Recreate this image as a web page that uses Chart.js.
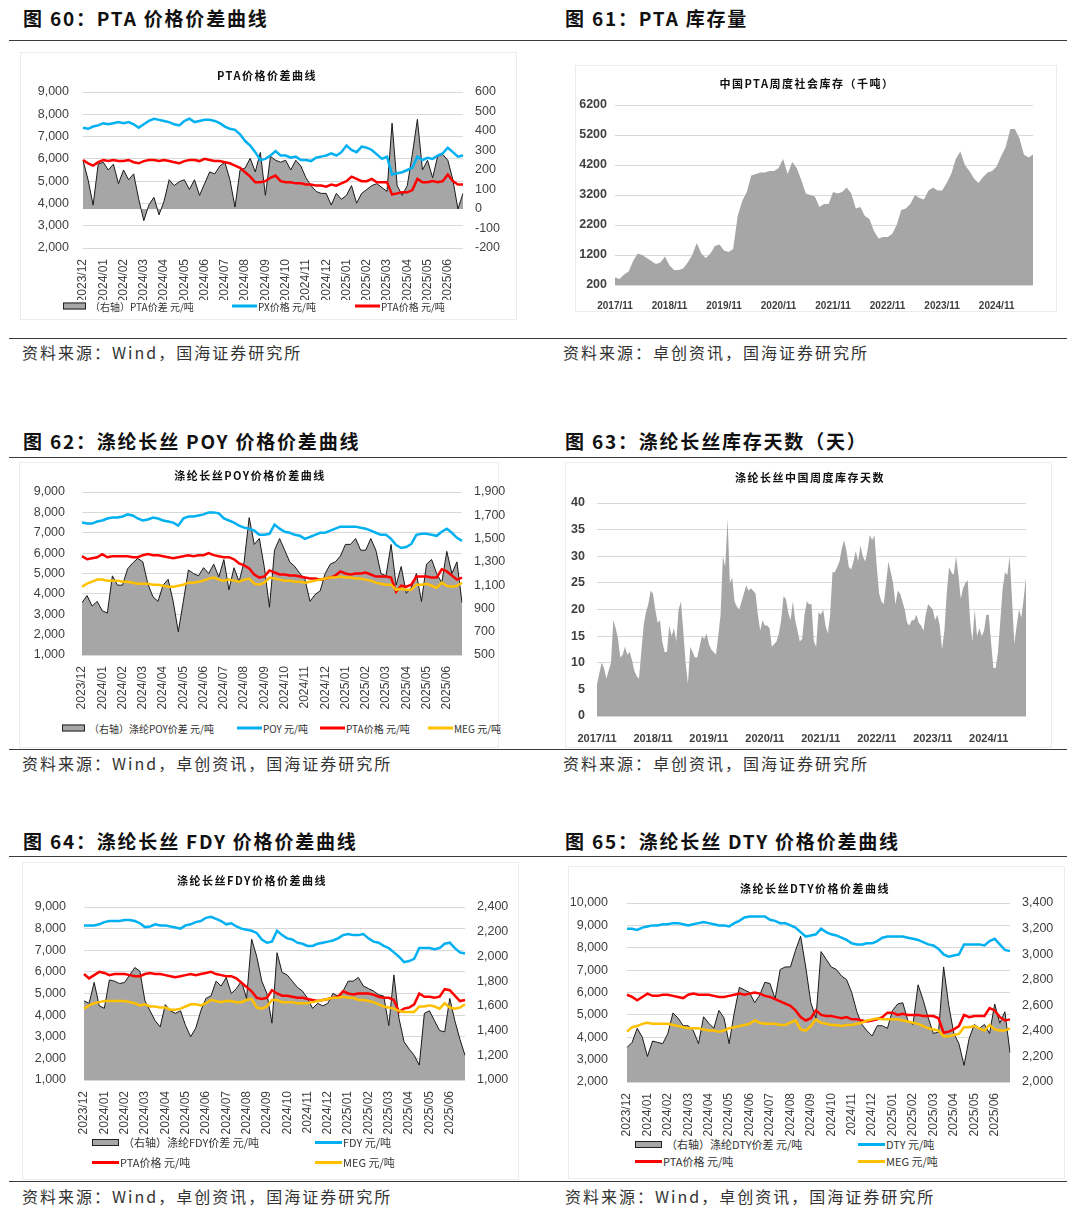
<!DOCTYPE html>
<html>
<head>
<meta charset="utf-8">
<script src="https://cdn.jsdelivr.net/npm/chart.js@4.4.1/dist/chart.umd.min.js"></script>
<style>
  body { margin:0; width:1080px; height:1215px; background:#fff; position:relative; overflow:hidden;
         font-family:"Noto Sans CJK SC","Liberation Sans",sans-serif; }
  .fig-title { position:absolute; font-size:19px; font-weight:bold; color:#111; letter-spacing:1.8px; line-height:24px; white-space:nowrap; }
  .rule { position:absolute; left:9px; width:1058px; height:1px; background:#3a3a3a; }
  .src { position:absolute; font-size:16px; color:#333; letter-spacing:2px; line-height:20px; white-space:nowrap; }
  .panel { position:absolute; border:1px solid #ececec; }
  .cbox { position:absolute; }
  .ctitle { position:absolute; font-size:11px; font-weight:bold; color:#111; letter-spacing:1.5px; line-height:14px; white-space:nowrap; transform:translate(-50%,-50%); }
  .li { position:absolute; display:flex; align-items:center; white-space:nowrap; color:#333; transform:translateY(-50%); }
  .sym-line { display:inline-block; height:3px; margin-right:1px; }
  .sym-area { display:inline-block; height:5px; background:#a6a6a6; border:1px solid #222; margin-right:4px; }
</style>
</head>
<body>

<!-- figure titles / rules / sources -->
<div class="fig-title" style="left:23px;top:6px">图 60：PTA 价格价差曲线</div>
<div class="fig-title" style="left:565px;top:6px">图 61：PTA 库存量</div>
<div class="rule" style="top:40px"></div>
<div class="rule" style="top:338px"></div>
<div class="src" style="left:22px;top:342px">资料来源：Wind，国海证券研究所</div>
<div class="src" style="left:563px;top:342px">资料来源：卓创资讯，国海证券研究所</div>

<div class="fig-title" style="left:23px;top:429px">图 62：涤纶长丝 POY 价格价差曲线</div>
<div class="fig-title" style="left:565px;top:429px">图 63：涤纶长丝库存天数（天）</div>
<div class="rule" style="top:457px"></div>
<div class="rule" style="top:749px"></div>
<div class="src" style="left:22px;top:753px">资料来源：Wind，卓创资讯，国海证券研究所</div>
<div class="src" style="left:563px;top:753px">资料来源：卓创资讯，国海证券研究所</div>

<div class="fig-title" style="left:23px;top:829px">图 64：涤纶长丝 FDY 价格价差曲线</div>
<div class="fig-title" style="left:565px;top:829px">图 65：涤纶长丝 DTY 价格价差曲线</div>
<div class="rule" style="top:856px"></div>
<div class="rule" style="top:1181px"></div>
<div class="src" style="left:22px;top:1186px">资料来源：Wind，卓创资讯，国海证券研究所</div>
<div class="src" style="left:565px;top:1186px">资料来源：Wind，卓创资讯，国海证券研究所</div>

<!-- chart panels -->
<div class="panel" style="left:20px;top:52px;width:495px;height:266px"></div>
<div class="panel" style="left:575px;top:65px;width:480px;height:245px"></div>
<div class="panel" style="left:19px;top:462px;width:478px;height:284px"></div>
<div class="panel" style="left:565px;top:462px;width:485px;height:284px"></div>
<div class="panel" style="left:22px;top:862px;width:495px;height:316px"></div>
<div class="panel" style="left:568px;top:866px;width:495px;height:311px"></div>

<div class="cbox" style="left:20px;top:52px;width:495px;height:248px"><canvas id="c1"></canvas></div>
<div class="cbox" style="left:575px;top:65px;width:480px;height:245px"><canvas id="c2"></canvas></div>
<div class="cbox" style="left:20px;top:462px;width:495px;height:250px"><canvas id="c3"></canvas></div>
<div class="cbox" style="left:565px;top:462px;width:485px;height:283px"><canvas id="c4"></canvas></div>
<div class="cbox" style="left:20px;top:865px;width:495px;height:270px"><canvas id="c5"></canvas></div>
<div class="cbox" style="left:565px;top:870px;width:495px;height:266px"><canvas id="c6"></canvas></div>

<div class="ctitle" style="left:267px;top:75px">PTA价格价差曲线</div>
<div class="ctitle" style="left:807px;top:83px">中国PTA周度社会库存（千吨）</div>
<div class="ctitle" style="left:250px;top:475px">涤纶长丝POY价格价差曲线</div>
<div class="ctitle" style="left:810px;top:477px">涤纶长丝中国周度库存天数</div>
<div class="ctitle" style="left:252px;top:880px">涤纶长丝FDY价格价差曲线</div>
<div class="ctitle" style="left:815px;top:888px">涤纶长丝DTY价格价差曲线</div>

<div id="legends"></div>

<script>
// ---- data: shared month axis (weekly points, 4 per month) ----
const months = ['2023/12','2024/01','2024/02','2024/03','2024/04','2024/05','2024/06','2024/07','2024/08',
  '2024/09','2024/10','2024/11','2024/12','2025/01','2025/02','2025/03','2025/04','2025/05','2025/06'];

// fig 60
const pxPrice = [7400,7350,7450,7500, 7600,7550,7600,7650, 7600,7650,7550,7400, 7550,7700,7800,7750,
  7700,7650,7550,7500, 7700,7800,7650,7700, 7750,7750,7700,7600, 7450,7350,7300,7100,
  6800,6600,6300,5950, 6000,6150,6350,6150, 6150,6050,6100,5950, 5950,5900,6050,6100,
  6150,6250,6150,6300, 6600,6400,6300,6550, 6500,6400,6200,6000, 6100,5300,5350,5400,
  5500,5600,6100,5950, 6050,6000,6150,6250, 6500,6300,6100,6150];
const ptaPrice1 = [5950,5800,5700,5850, 5950,5900,5950,5900, 5900,5950,5850,5800, 5900,5950,5950,5900,
  5950,5900,5850,5800, 5900,5950,5950,5900, 6000,5950,5900,5900, 5850,5800,5700,5600,
  5400,5200,4950,4950, 5000,5150,5250,5000, 4950,4950,4900,4900, 4850,4850,4800,4800,
  4750,4850,4800,4900, 5000,5200,5100,5000, 5000,5100,4950,4950, 4950,4400,4450,4500,
  4500,4600,5100,4950, 4950,5000,4950,5000, 5300,5000,4850,4850];
const ptaSpread = [250,150,20,230, 240,200,230,130, 200,150,180,50, -60,20,60,-30,
  40,150,120,140, 150,100,150,70, 130,190,180,220, 240,150,10,200,
  210,260,190,290, 70,270,250,240, 250,200,250,220, 160,120,90,80,
  80,20,80,50, 70,120,30,80, 100,120,130,110, 90,440,120,70,
  120,280,460,200, 250,160,270,280, 250,150,0,80];

// fig 61 (monthly, 2017/11 - 2025/07)
const stockYears = ['2017/11','2018/11','2019/11','2020/11','2021/11','2022/11','2023/11','2024/11'];
const ptaStock = [450,400,550,650,1000,1250,1200,1100,1000,900,950,1150,
  850,700,700,750,950,1200,1600,1250,1100,1250,1500,1550,
  1350,1300,1400,2500,3000,3300,3850,3900,3950,3950,4000,4000,
  4100,4400,3900,4300,4100,3700,3250,3200,3150,2800,2900,2900,
  3300,3250,3300,3450,3250,2750,2800,2500,2400,2000,1750,1800,
  1800,1900,2200,2700,2750,2900,3200,3100,3050,3350,3450,3350,
  3350,3600,3900,4400,4650,4200,4000,3750,3600,3800,3950,4000,
  4150,4500,4800,5400,5400,5100,4550,4450,4550];

// fig 62
const poyPrice = [7500,7450,7450,7550, 7600,7700,7750,7750, 7800,7900,7850,7700, 7600,7650,7750,7700,
  7600,7550,7500,7350, 7700,7800,7800,7850, 7900,8000,8000,7950, 7700,7600,7500,7350,
  7250,7200,7100,6900, 6900,6950,7400,7200, 7050,7000,6900,6850, 6700,6800,6900,7000,
  7000,7100,7200,7300, 7300,7300,7300,7250, 7200,7100,7000,6900, 6900,6700,6400,6250,
  6300,6450,6900,6950, 6950,6900,6850,7050, 7200,7000,6750,6600];
const ptaPrice3 = [5850,5700,5750,5800, 5950,5800,5850,5850, 5850,5850,5800,5800, 5900,5950,5900,5900,
  5850,5800,5750,5800, 5850,5900,5850,5900, 5900,6000,5900,5850, 5800,5800,5700,5500,
  5400,5250,4950,4800, 4850,5150,5050,4950, 4950,4900,4900,4850, 4800,4750,4750,4700,
  4750,4800,4900,5100, 5000,4950,5000,5000, 5050,4950,4850,4850, 4850,4800,4100,4400,
  4350,4450,4850,4850, 4850,4800,4800,5200, 5100,4900,4700,4800];
const megPrice3 = [4350,4500,4600,4700, 4700,4650,4650,4650, 4600,4600,4550,4500, 4500,4500,4450,4450,
  4400,4350,4350,4400, 4450,4550,4550,4600, 4650,4750,4800,4700, 4650,4700,4650,4600,
  4700,4750,4500,4450, 4550,4800,4750,4700, 4650,4650,4600,4600, 4550,4600,4650,4700,
  4750,4800,4800,4850, 4800,4800,4750,4750, 4700,4650,4550,4500, 4450,4450,4200,4250,
  4200,4200,4450,4450, 4500,4400,4300,4550, 4400,4350,4400,4550];
const poySpread = [950,1010,920,960, 880,860,1180,1100, 1100,1240,1290,1330, 1300,1110,1000,960,
  1100,1150,960,700, 960,1230,1200,1180, 1250,1200,1280,1170, 1320,1060,1250,1130,
  1300,1680,1450,1500, 1250,910,1400,1500, 1400,1300,1260,1200, 1150,960,1020,1050,
  1200,1280,1300,1350, 1450,1450,1500,1400, 1400,1500,1400,1200, 1180,1450,1100,1260,
  1030,1080,1200,960, 1280,1320,1200,1120, 1390,1200,1300,950];

// fig 63 (half-monthly, 2017/11 - 2025/07)
const dayYears = stockYears;
const stockDays = [6,8,10,9,7,8.5,10,18,16.5,14.5, 11,11.5,13,11.5,12,10.5,8.5,7.5,7,12,
  17,19.5,21,23.5,23,20,17.5,18,14,12, 12,17,15,16.5,14,20,21.5,16,10,6,
  13,12,11,11,13,15,14.5,15.5,13.5,12.5, 12,11.5,15,19,30,28,37,25,26,21.5,
  20.5,20,21.5,23,24.5,23.5,24,23.5,23,19, 16,18,17,17,16.5,13,13.5,14,15.5,18,
  22.5,22,19.5,18,21.5,18,16,14,14.5,19, 21.5,21,21,14,13,19.5,19,20,17,15.5,
  19,27,27,28,29,31.5,33,31,28,27.5, 29,31,29,32,30,29,31,34,33,34,
  28,23,21.5,21,25,29,27,25,21,23.5, 23,21.5,20,17.5,17,18,18,19,17.5,17,
  16,19,21,20.5,20,18,19,17,12.5,16, 23,28,27,26.5,30,26.5,22,24,25,25.5,
  18,14,20,15,16.5,15,16,19,19,14, 9,9,12,18,24,27,26.5,30,22,13.5,
  17,20,18.5,22,26];

// fig 64
const fdyPrice = [8150,8150,8150,8200, 8300,8350,8350,8350, 8400,8400,8350,8250, 8070,8100,8200,8150,
  8150,8100,8050,8000, 8150,8200,8300,8350, 8500,8550,8450,8350, 8200,8250,8100,8000,
  7950,7900,7800,7500, 7350,7400,7900,7700, 7550,7500,7350,7300, 7200,7200,7300,7350,
  7400,7450,7550,7700, 7750,7700,7700,7750, 7550,7400,7350,7200, 7100,6900,6700,6450,
  6500,6600,7100,7100, 7100,7050,7100,7300, 7350,7100,6900,6850];
const ptaPrice5 = [5900,5700,5850,6000, 5950,5850,5900,5900, 5900,5850,5800,5800, 5900,5950,5900,5900,
  5850,5800,5750,5800, 5850,5900,5850,5900, 5950,6000,5900,5850, 5800,5800,5700,5500,
  5300,5100,4800,4750, 4800,5150,5000,4900, 4900,4850,4800,4800, 4750,4700,4650,4700,
  4750,4800,4850,5100, 5000,4950,5000,5000, 5000,4950,4850,4800, 4800,4700,4150,4300,
  4350,4500,5000,4850, 4850,4800,4850,5200, 5150,4900,4650,4700];
const megPrice5 = [4300,4450,4550,4600, 4650,4650,4650,4650, 4650,4600,4550,4450, 4500,4400,4400,4350,
  4350,4250,4250,4300, 4400,4500,4500,4450, 4550,4700,4650,4600, 4650,4650,4600,4600,
  4700,4750,4350,4300, 4400,4700,4700,4600, 4600,4600,4550,4550, 4550,4600,4650,4700,
  4750,4800,4800,4850, 4800,4800,4700,4700, 4650,4600,4500,4400, 4350,4300,4200,4150,
  4150,4150,4400,4400, 4450,4400,4300,4550, 4350,4300,4350,4500];
const fdySpread = [1640,1620,1790,1600, 1580,1810,1800,1780, 1790,1850,1910,1880, 1640,1560,1480,1430,
  1610,1560,1540,1560, 1440,1350,1420,1560, 1660,1680,1800,1760, 1830,1700,1740,1800,
  1660,2140,2000,1800, 1700,1460,2030,1870, 1850,1800,1750,1720, 1660,1580,1620,1600,
  1620,1700,1680,1720, 1800,1800,1830,1760, 1740,1720,1690,1680, 1440,1850,1500,1310,
  1250,1200,1120,1540, 1560,1480,1400,1390, 1660,1480,1330,1200];

// fig 65
const dtyPrice = [8850,8850,8800,8900, 8950,9000,9000,9050, 9050,9100,9100,9050, 9000,9050,9100,9150,
  9100,9050,9000,9000, 8950,9100,9200,9350, 9400,9400,9400,9400, 9250,9200,9100,9100,
  9000,8900,8700,8500, 8550,8600,8850,8700, 8600,8550,8450,8350, 8200,8150,8150,8200,
  8200,8300,8450,8500, 8500,8500,8500,8450, 8400,8350,8250,8150, 8100,7950,7700,7600,
  7650,7700,8150,8150, 8150,8150,8100,8300, 8400,8150,7900,7850];
const ptaPrice6 = [5900,5800,5650,5800, 5950,5850,5850,5900, 5900,5850,5800,5750, 5900,5950,5900,5900,
  5900,5850,5800,5800, 5850,5900,5950,5900, 5950,6000,5950,5850, 5800,5700,5600,5500,
  5400,5200,4900,4750, 4850,5200,5000,4950, 4950,4900,4850,4900, 4800,4800,4750,4700,
  4750,4800,4900,5100, 5100,5000,5050,5000, 5000,5000,4950,4950, 4950,4850,4200,4250,
  4350,4500,5000,4900, 4950,4950,4950,5300, 5200,4900,4750,4800];
const megPrice6 = [4250,4450,4500,4600, 4650,4600,4600,4600, 4600,4550,4500,4450, 4400,4400,4400,4350,
  4300,4300,4250,4300, 4400,4450,4500,4550, 4600,4750,4650,4600, 4600,4600,4550,4550,
  4650,4750,4350,4300, 4500,4800,4650,4600, 4550,4550,4500,4550, 4550,4600,4650,4750,
  4800,4850,4800,4800, 4800,4800,4750,4700, 4650,4600,4500,4400, 4350,4300,4050,4050,
  4100,4150,4450,4450, 4500,4400,4300,4550, 4350,4300,4300,4400];
const dtySpread = [2270,2310,2420,2350, 2200,2320,2310,2300, 2380,2540,2500,2440, 2440,2400,2300,2510,
  2460,2420,2560,2500, 2300,2540,2740,2720, 2700,2620,2680,2780, 2770,2650,2880,2900,
  2900,3030,3140,2900, 2620,2500,3020,2960, 2900,2880,2830,2800, 2700,2550,2450,2400,
  2360,2440,2440,2420, 2560,2610,2620,2480, 2450,2760,2640,2500, 2380,2390,2900,2600,
  2380,2300,2130,2340, 2450,2420,2450,2380, 2610,2460,2550,2230];

/* ---- styling ---- */
const BLUE = '#00b0f0', RED = '#ff0000', GOLD = '#ffc000', AREA = '#a6a6a6', GRID = '#d9d9d9', TXT = '#404040';
Chart.defaults.font.family = "'Liberation Sans', Arial, sans-serif";
Chart.defaults.color = TXT;

// category labels: only the first point of each period carries a name
function tickLabels(names, every, n) {
    const out = [];
    for (let i = 0; i < n; i++) out.push(i % every === 0 ? (names[i / every] || '') : '');
    return out;
}

function lineSet(label, data, color, order) {
    return { label, data, borderColor: color, backgroundColor: color, borderWidth: 2.5,
             pointRadius: 0, fill: false, yAxisID: 'y', order };
}

function spreadSet(label, data, fillTo) {
    return { label, data, borderColor: '#1a1a1a', borderWidth: 1, backgroundColor: AREA,
             pointRadius: 0, fill: fillTo, yAxisID: 'y2', order: 9 };
}

const fmt = v => Number(v).toLocaleString('en-US');

// dual-axis price / spread chart
function priceChart(id, lay, left, right, datasets) {
    return new Chart(document.getElementById(id), {
        type: 'line',
        data: { labels: tickLabels(months, 4, datasets[0].data.length), datasets },
        options: {
            responsive: true, maintainAspectRatio: false, animation: false,
            layout: { padding: { top: lay.t, left: 0, right: 0, bottom: 0 } },
            plugins: { legend: { display: false }, tooltip: { enabled: false } },
            scales: {
                x: { grid: { display: false }, border: { display: false },
                     ticks: { autoSkip: false, minRotation: 90, maxRotation: 90, padding: 3, color: TXT, font: { size: 12 } },
                     afterFit: s => { s.height = lay.xh; } },
                y: { position: 'left', min: left[0], max: left[1], border: { display: false },
                     grid: { color: GRID, drawTicks: false },
                     ticks: { autoSkip: false, stepSize: left[2], padding: lay.lp, color: TXT, font: { size: 12.5 }, callback: fmt },
                     afterFit: s => { s.width = lay.l; } },
                y2: { position: 'right', min: right[0], max: right[1], border: { display: false },
                      grid: { display: false, drawTicks: false },
                      ticks: { autoSkip: false, stepSize: right[2], padding: 12, color: TXT, font: { size: 12.5 }, callback: fmt },
                      afterFit: s => { s.width = lay.r; } }
            }
        }
    });
}

// single area chart (inventory)
function stockChart(id, lay, names, every, data, yr) {
    return new Chart(document.getElementById(id), {
        type: 'line',
        data: {
            labels: tickLabels(names, every, data.length),
            datasets: [{ data, borderWidth: 0, borderColor: AREA, backgroundColor: AREA, pointRadius: 0, fill: 'start' }]
        },
        options: {
            responsive: true, maintainAspectRatio: false, animation: false,
            layout: { padding: { top: lay.t, left: 0, right: lay.rp, bottom: 0 } },
            plugins: { legend: { display: false }, tooltip: { enabled: false } },
            scales: {
                x: { grid: { display: false }, border: { display: false },
                     ticks: { autoSkip: false, minRotation: 0, maxRotation: 0, padding: lay.xp, color: TXT,
                              font: { size: lay.xf, weight: 'bold' } },
                     afterFit: s => { s.height = lay.xh; } },
                y: { min: yr[0], max: yr[1], border: { display: false },
                     grid: { color: GRID, drawTicks: false },
                     ticks: { autoSkip: false, stepSize: yr[2], padding: lay.lp, color: TXT,
                              font: { size: 12.5, weight: 'bold' }, callback: v => String(v) },
                     afterFit: s => { s.width = lay.l; } }
            }
        }
    });
}

priceChart('c1', { t: 40, l: 63, r: 52, xh: 52, lp: 14 }, [2000, 9000, 1000], [-200, 600, 100], [
    lineSet('PX价格', pxPrice, BLUE, 2),
    lineSet('PTA价格', ptaPrice1, RED, 1),
    spreadSet('PTA价差', ptaSpread, 'origin')
]);

stockChart('c2', { t: 40, l: 40, rp: 22, xh: 25, xp: 7, xf: 10, lp: 8 }, stockYears, 12, ptaStock, [200, 6200, 1000]);

priceChart('c3', { t: 30, l: 62, r: 53, xh: 57, lp: 17 }, [1000, 9000, 1000], [500, 1900, 200], [
    lineSet('POY', poyPrice, BLUE, 3),
    lineSet('PTA价格', ptaPrice3, RED, 2),
    lineSet('MEG', megPrice3, GOLD, 1),
    spreadSet('涤纶POY价差', poySpread, 'start')
]);

stockChart('c4', { t: 41, l: 32, rp: 24, xh: 29, xp: 8, xf: 11, lp: 12 }, dayYears, 24, stockDays, [0, 40, 5]);

priceChart('c5', { t: 42, l: 64, r: 50, xh: 55, lp: 18 }, [1000, 9000, 1000], [1000, 2400, 200], [
    lineSet('FDY', fdyPrice, BLUE, 3),
    lineSet('PTA价格', ptaPrice5, RED, 2),
    lineSet('MEG', megPrice5, GOLD, 1),
    spreadSet('涤纶FDY价差', fdySpread, 'start')
]);

priceChart('c6', { t: 33, l: 62, r: 50, xh: 54, lp: 19 }, [2000, 10000, 1000], [2000, 3400, 200], [
    lineSet('DTY', dtyPrice, BLUE, 3),
    lineSet('PTA价格', ptaPrice6, RED, 2),
    lineSet('MEG', megPrice6, GOLD, 1),
    spreadSet('涤纶DTY价差', dtySpread, 'start')
]);

/* ---- HTML legends ---- */
const legendItems = [
    // [x, y, kind, color, text, fontSize, symbolWidth]
    [63, 306, 'area', AREA, '（右轴）PTA价差 元/吨', 10, 21],
    [232, 306, 'line', BLUE, 'PX价格 元/吨', 10, 25],
    [355, 306, 'line', RED, 'PTA价格 元/吨', 10, 25],
    [62, 728, 'area', AREA, '（右轴）涤纶POY价差 元/吨', 10, 21],
    [237, 728, 'line', BLUE, 'POY 元/吨', 10, 25],
    [320, 728, 'line', RED, 'PTA价格 元/吨', 10, 25],
    [428, 728, 'line', GOLD, 'MEG 元/吨', 10, 25],
    [92, 1142, 'area', AREA, '（右轴）涤纶FDY价差 元/吨', 11, 25],
    [315, 1142, 'line', BLUE, 'FDY 元/吨', 11, 27],
    [92, 1162, 'line', RED, 'PTA价格 元/吨', 11, 27],
    [315, 1162, 'line', GOLD, 'MEG 元/吨', 11, 27],
    [635, 1144, 'area', AREA, '（右轴）涤纶DTY价差 元/吨', 11, 25],
    [858, 1144, 'line', BLUE, 'DTY 元/吨', 11, 27],
    [635, 1161, 'line', RED, 'PTA价格 元/吨', 11, 27],
    [858, 1161, 'line', GOLD, 'MEG 元/吨', 11, 27]
];
const legendRoot = document.getElementById('legends');
legendItems.forEach(([x, y, kind, color, text, fs, w]) => {
    const sym = kind === 'area'
        ? `<span class="sym-area" style="width:${w}px"></span>`
        : `<span class="sym-line" style="width:${w}px;background:${color}"></span>`;
    legendRoot.insertAdjacentHTML('beforeend',
        `<div class="li" style="left:${x}px;top:${y}px;font-size:${fs}px">${sym}<span>${text}</span></div>`);
});
</script>
</body>
</html>
